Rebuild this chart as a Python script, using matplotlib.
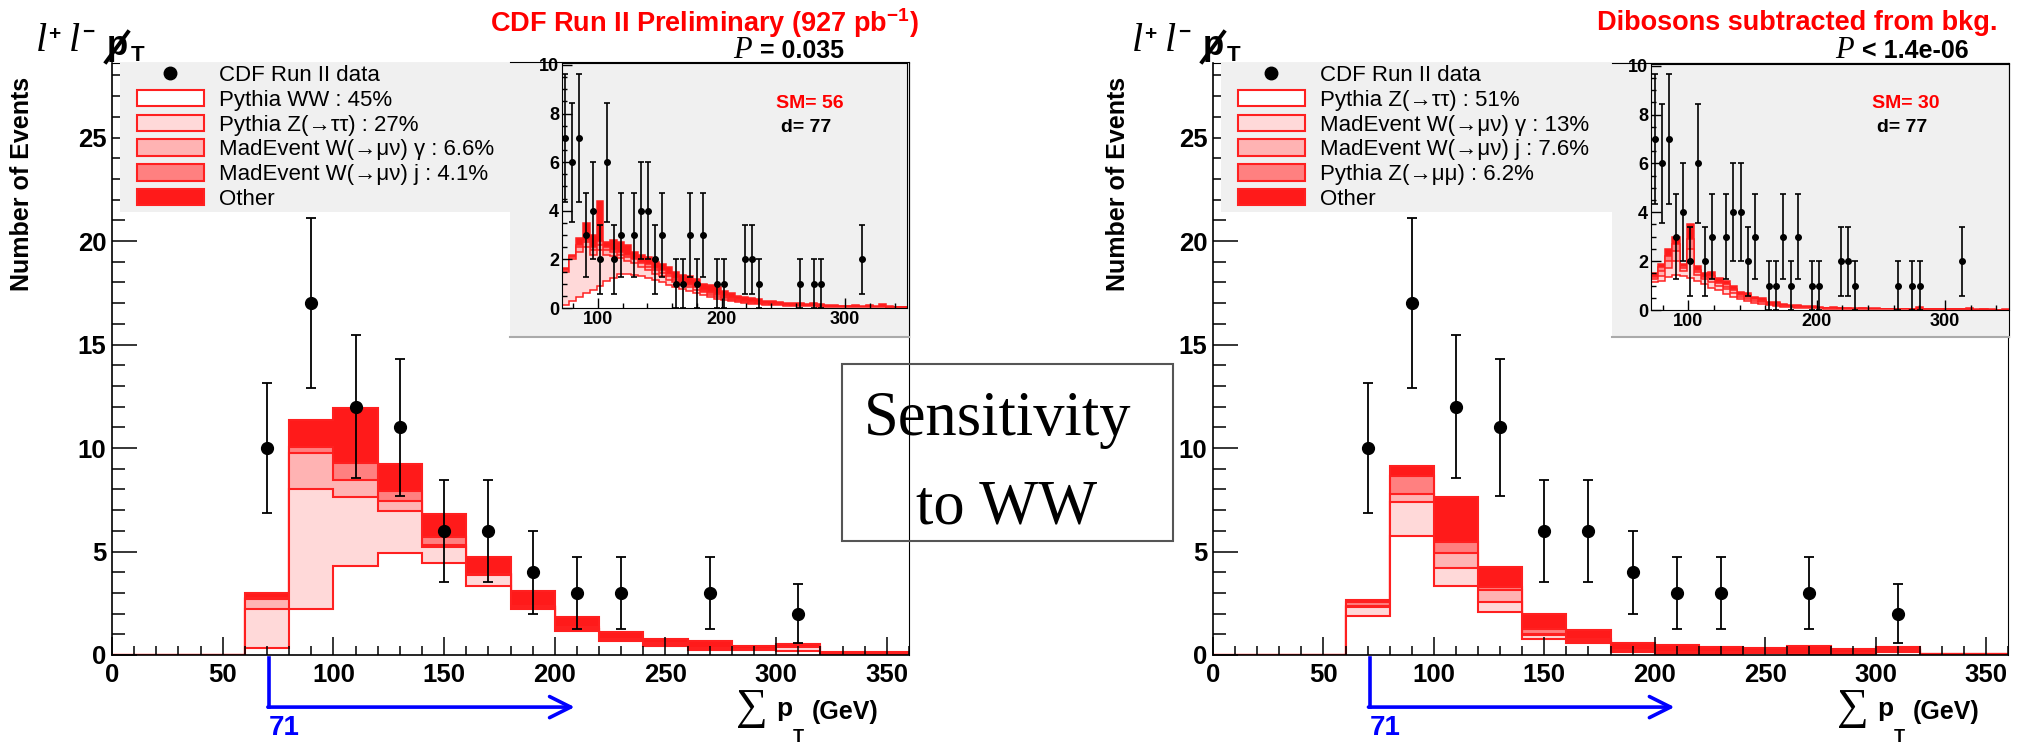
import numpy as np
import matplotlib
matplotlib.use("Agg")
import matplotlib.pyplot as plt
from matplotlib.patches import Patch, Rectangle
from matplotlib.lines import Line2D
from matplotlib.ticker import MultipleLocator

# ---- values ----
edges = np.arange(0, 361, 20)
data_counts = [0, 0, 0, 10, 17, 12, 11, 6, 6, 4, 3, 3, 0, 3, 0, 2, 0, 0]

# stack tops (cumulative, as drawn), bottom layer first
left_ww = [0, 0, 0, 0.34, 2.22, 4.28, 4.93, 4.44, 3.35, 2.22, 1.17, 0.69, 0.42, 0.26, 0.24, 0.17, 0.07, 0.05]
left_ztt = [0, 0, 0, 2.22, 8.02, 7.65, 6.97, 5.20, 3.85, 2.30, 1.25, 0.72, 0.50, 0.30, 0.26, 0.38, 0.09, 0.07]
left_wg = [0, 0, 0, 2.71, 9.74, 8.45, 7.42, 5.30, 3.90, 2.33, 1.28, 0.74, 0.55, 0.32, 0.27, 0.39, 0.10, 0.08]
left_wj = [0, 0, 0, 2.75, 10.03, 9.26, 7.94, 5.71, 3.93, 2.38, 1.33, 0.76, 0.58, 0.34, 0.28, 0.40, 0.11, 0.08]
left_other = [0, 0, 0, 3.00, 11.35, 11.92, 9.22, 6.81, 4.73, 3.10, 1.82, 1.12, 0.77, 0.69, 0.45, 0.53, 0.16, 0.13]

right_ztt = [0, 0, 0, 1.88, 5.75, 3.33, 2.08, 0.79, 0.57, 0.15, 0.07, 0.07, 0.12, 0.03, 0.06, 0.15, 0.02, 0.02]
right_wg = [0, 0, 0, 2.30, 7.41, 4.19, 2.56, 0.95, 0.65, 0.20, 0.09, 0.09, 0.14, 0.05, 0.08, 0.23, 0.03, 0.03]
right_wj = [0, 0, 0, 2.37, 7.80, 4.95, 3.13, 1.00, 0.70, 0.23, 0.11, 0.11, 0.16, 0.06, 0.09, 0.26, 0.04, 0.03]
right_zmm = [0, 0, 0, 2.56, 8.65, 5.46, 3.30, 1.27, 0.76, 0.26, 0.13, 0.13, 0.18, 0.07, 0.10, 0.28, 0.04, 0.03]
right_other = [0, 0, 0, 2.66, 9.13, 7.65, 4.24, 1.97, 1.21, 0.57, 0.47, 0.41, 0.34, 0.43, 0.28, 0.39, 0.05, 0.05]

# insets: 50 bins from the 71 GeV cut to 350 GeV
inset_edges = np.linspace(71, 350, 51)
inset_counts = [7, 6, 7, 3, 4, 2, 6, 2, 3, 0, 3, 4, 4, 2, 3, 0, 1, 1, 3, 1,
                3, 0, 1, 1, 0, 0, 2, 2, 1, 0, 0, 0, 0, 0, 1, 0, 1, 1, 0, 0,
                0, 0, 0, 2, 0, 0, 0, 0, 0, 0]

li_ww = [0.14, 0.27, 0.44, 0.6, 0.75, 0.92, 1.1, 1.23, 1.4, 1.4, 1.35, 1.3, 1.23, 1.16, 1.05, 0.96, 0.86, 0.78, 0.7, 0.62,
         0.54, 0.46, 0.38, 0.34, 0.29, 0.25, 0.21, 0.18, 0.16, 0.14, 0.12, 0.11, 0.1, 0.09, 0.08, 0.07, 0.07, 0.06, 0.05, 0.05,
         0.04, 0.04, 0.04, 0.03, 0.03, 0.03, 0.03, 0.02, 0.02, 0.02]
li_ztt = [1.5, 2.0, 2.3, 2.5, 2.2, 2.4, 2.2, 2.15, 2.05, 1.95, 1.85, 1.7, 1.55, 1.4, 1.3, 1.15, 1.05, 0.95, 0.85, 0.75,
          0.65, 0.55, 0.45, 0.4, 0.33, 0.28, 0.24, 0.2, 0.18, 0.16, 0.14, 0.12, 0.11, 0.1, 0.09, 0.08, 0.08, 0.07, 0.06, 0.06,
          0.05, 0.05, 0.05, 0.04, 0.05, 0.04, 0.04, 0.03, 0.03, 0.03]
li_wg = [1.55, 2.1, 2.5, 2.7, 2.4, 2.6, 2.4, 2.3, 2.2, 2.1, 2.0, 1.85, 1.7, 1.55, 1.45, 1.3, 1.15, 1.05, 0.95, 0.85,
         0.72, 0.62, 0.52, 0.45, 0.38, 0.32, 0.28, 0.24, 0.21, 0.19, 0.17, 0.15, 0.13, 0.12, 0.11, 0.1, 0.1, 0.09, 0.08, 0.07,
         0.06, 0.06, 0.06, 0.05, 0.06, 0.05, 0.05, 0.04, 0.04, 0.03]
li_wj = [1.6, 2.15, 2.6, 2.8, 2.5, 2.75, 2.5, 2.4, 2.3, 2.2, 2.05, 1.9, 1.8, 1.65, 1.55, 1.4, 1.25, 1.12, 1.0, 0.9,
         0.76, 0.66, 0.56, 0.48, 0.41, 0.35, 0.3, 0.26, 0.23, 0.2, 0.18, 0.16, 0.14, 0.13, 0.12, 0.11, 0.11, 0.1, 0.08, 0.08,
         0.07, 0.07, 0.07, 0.06, 0.07, 0.05, 0.06, 0.05, 0.04, 0.04]
li_other = [1.65, 2.2, 2.9, 3.5, 3.0, 4.4, 2.7, 2.8, 2.7, 2.6, 2.3, 2.2, 2.1, 1.9, 1.8, 1.7, 1.5, 1.35, 1.3, 1.2,
            1.0, 0.95, 0.85, 0.7, 0.6, 0.5, 0.45, 0.4, 0.35, 0.3, 0.28, 0.25, 0.22, 0.2, 0.2, 0.18, 0.22, 0.15, 0.12, 0.12,
            0.1, 0.1, 0.12, 0.1, 0.12, 0.08, 0.15, 0.08, 0.06, 0.05]

ri_ztt = [1.15, 1.2, 1.35, 1.45, 1.4, 1.3, 1.2, 1.05, 0.9, 0.8, 0.65, 0.55, 0.45, 0.38, 0.3, 0.25, 0.2, 0.17, 0.14, 0.12,
          0.1, 0.09, 0.08, 0.07, 0.06, 0.06, 0.05, 0.05, 0.04, 0.04, 0.04, 0.03, 0.03, 0.03, 0.03, 0.03, 0.02, 0.03, 0.02, 0.02,
          0.02, 0.02, 0.02, 0.02, 0.02, 0.01, 0.01, 0.01, 0.01, 0.01]
ri_wg = [1.25, 1.4, 1.7, 2.0, 1.6, 2.0, 1.45, 1.25, 1.15, 1.0, 0.85, 0.7, 0.55, 0.47, 0.38, 0.32, 0.25, 0.22, 0.18, 0.15,
         0.13, 0.11, 0.1, 0.09, 0.07, 0.07, 0.06, 0.06, 0.05, 0.05, 0.05, 0.04, 0.04, 0.04, 0.04, 0.04, 0.03, 0.04, 0.03, 0.03,
         0.03, 0.03, 0.03, 0.03, 0.03, 0.02, 0.02, 0.02, 0.01, 0.02]
ri_wj = [1.35, 1.6, 2.0, 2.4, 1.7, 2.5, 1.55, 1.35, 1.3, 1.1, 0.95, 0.8, 0.62, 0.55, 0.44, 0.38, 0.28, 0.26, 0.2, 0.17,
         0.15, 0.12, 0.11, 0.1, 0.08, 0.08, 0.07, 0.06, 0.05, 0.06, 0.05, 0.05, 0.04, 0.04, 0.04, 0.04, 0.03, 0.05, 0.03, 0.03,
         0.03, 0.03, 0.03, 0.03, 0.04, 0.02, 0.02, 0.02, 0.01, 0.02]
ri_zmm = [1.4, 1.75, 2.2, 2.7, 1.8, 2.9, 1.65, 1.4, 1.4, 1.15, 1.05, 0.85, 0.65, 0.6, 0.47, 0.41, 0.3, 0.29, 0.22, 0.18,
          0.16, 0.13, 0.12, 0.1, 0.09, 0.09, 0.08, 0.07, 0.06, 0.07, 0.06, 0.05, 0.05, 0.04, 0.04, 0.05, 0.04, 0.06, 0.04, 0.03,
          0.04, 0.03, 0.04, 0.03, 0.05, 0.02, 0.03, 0.02, 0.02, 0.02]
ri_other = [1.5, 1.9, 2.5, 3.0, 1.9, 3.5, 1.8, 1.5, 1.55, 1.3, 1.2, 1.0, 0.75, 0.7, 0.55, 0.48, 0.34, 0.34, 0.25, 0.2,
            0.2, 0.15, 0.15, 0.12, 0.1, 0.12, 0.1, 0.08, 0.07, 0.1, 0.08, 0.07, 0.06, 0.05, 0.05, 0.06, 0.05, 0.12, 0.05, 0.04,
            0.05, 0.04, 0.06, 0.04, 0.1, 0.03, 0.04, 0.03, 0.02, 0.03]

left_labels = ["CDF Run II data", "Pythia WW : 45%", "Pythia Z(\u2192\u03c4\u03c4) : 27%",
               "MadEvent W(\u2192\u03bc\u03bd) \u03b3 : 6.6%", "MadEvent W(\u2192\u03bc\u03bd) j : 4.1%", "Other"]
right_labels = ["CDF Run II data", "Pythia Z(\u2192\u03c4\u03c4) : 51%", "MadEvent W(\u2192\u03bc\u03bd) \u03b3 : 13%",
                "MadEvent W(\u2192\u03bc\u03bd) j : 7.6%", "Pythia Z(\u2192\u03bc\u03bc) : 6.2%", "Other"]

CUT = 71
ARROW_END = 209

W, H = 2020, 744
FILLS = ["white", "#ffd9d9", "#ffb3b3", "#ff8080", "#ff1a1a"]
EDGE = "#ff2020"
GRAY = "#f0f0f0"
SANS = ["Liberation Sans", "DejaVu Sans"]
SERIF = ["Liberation Serif", "DejaVu Serif"]

plt.rcParams["font.family"] = SANS
plt.rcParams["font.weight"] = "bold"
plt.rcParams["mathtext.fontset"] = "custom"
plt.rcParams["mathtext.rm"] = "Liberation Sans:bold"
plt.rcParams["mathtext.bf"] = "Liberation Sans:bold"


def fig_axes(fig, x0, y0, x1, y1):
    return fig.add_axes([x0 / W, 1 - y1 / H, (x1 - x0) / W, (y1 - y0) / H])


def ftext(fig, x, y, s, **kw):
    return fig.text(x / W, 1 - y / H, s, **kw)


def draw_stack(ax, bin_edges, tops, lw):
    # draw cumulative tops from the outside in, like THStack
    for top, color in reversed(list(zip(tops, FILLS))):
        ax.stairs(top, bin_edges, baseline=0, fill=True, facecolor=color,
                  edgecolor=EDGE, linewidth=lw)


def draw_data(ax, bin_edges, counts, ms, cap, lw):
    centers = 0.5 * (bin_edges[:-1] + bin_edges[1:])
    counts = np.asarray(counts, dtype=float)
    keep = counts > 0
    ax.errorbar(centers[keep], counts[keep], yerr=np.sqrt(counts[keep]), fmt="o",
                color="black", ms=ms, capsize=cap, elinewidth=lw, capthick=lw, zorder=6)


def draw_panel(fig, dx, main_box, pad_box, inset_box, inset_top, tops, inset_tops,
               labels, title, title_x, p_val, p_x, sm_text, sm_x, d_x):
    ax = fig_axes(fig, *main_box)
    draw_stack(ax, edges, tops, 1.5)
    draw_data(ax, edges, data_counts, 8.5, 3.3, 1.3)
    ax.set_xlim(0, 360)
    ax.set_ylim(0, 28.6)
    ax.xaxis.set_major_locator(MultipleLocator(50))
    ax.xaxis.set_minor_locator(MultipleLocator(10))
    ax.yaxis.set_major_locator(MultipleLocator(5))
    ax.yaxis.set_minor_locator(MultipleLocator(1))
    ax.tick_params(which="both", direction="in", top=False, right=False, width=1.1)
    ax.tick_params(axis="x", which="major", length=13, labelsize=18.5, pad=6)
    ax.tick_params(axis="x", which="minor", length=6.5)
    ax.tick_params(axis="y", which="major", length=18, labelsize=18.5, pad=4)
    ax.tick_params(axis="y", which="minor", length=9.4)
    for side in ["left", "bottom"]:
        ax.spines[side].set_linewidth(1.2)

    # legend with its grey box
    x0 = main_box[0]
    ax.add_patch(Rectangle(((x0 + 8) / W, 1 - 212 / H), (pad_box[0] - x0 - 8) / W, 149 / H,
                           transform=fig.transFigure, facecolor=GRAY, edgecolor="none",
                           zorder=3, clip_on=False))
    handles = [Line2D([], [], marker="o", color="black", ls="none", ms=9)]
    handles += [Patch(facecolor=c, edgecolor=EDGE, linewidth=1.5) for c in FILLS]
    ax.legend(handles, labels, loc="upper left",
              bbox_to_anchor=((x0 + 25) / W, 1 - 65 / H), bbox_transform=fig.transFigure,
              frameon=False, borderpad=0, borderaxespad=0, numpoints=1,
              handlelength=3.0, handleheight=0.75, handletextpad=0.68, labelspacing=0.17,
              prop={"family": SANS, "size": 16, "weight": "normal"}).set_zorder(5)

    # cut arrow
    trans = ax.get_xaxis_transform()
    ax.plot([CUT, CUT], [-0.005, -0.088], color="blue", lw=2.6, transform=trans, clip_on=False)
    ax.annotate("", xy=(ARROW_END, -0.088), xytext=(CUT - 0.6, -0.088), xycoords=trans,
                textcoords=trans, annotation_clip=False,
                arrowprops=dict(arrowstyle="->", color="blue", lw=2.6, mutation_scale=38,
                                shrinkA=0, shrinkB=0))
    ax.text(CUT, -0.124, str(CUT), transform=trans, color="blue", fontsize=20,
            ha="left", va="center")

    # inset
    pad = fig_axes(fig, *pad_box)
    pad.set_facecolor(GRAY)
    pad.set_xticks([])
    pad.set_yticks([])
    pad.spines["left"].set_visible(False)
    pad.spines["bottom"].set_color("#aaaaaa")
    pad.spines["bottom"].set_linewidth(1.5)

    ins = fig_axes(fig, *inset_box)
    ins.set_facecolor("none")
    draw_stack(ins, inset_edges, inset_tops, 1.1)
    draw_data(ins, inset_edges, inset_counts, 4, 2, 1.2)
    ins.set_xlim(71, 350)
    ins.set_ylim(0, inset_top)
    ins.xaxis.set_major_locator(MultipleLocator(100))
    ins.xaxis.set_minor_locator(MultipleLocator(20))
    ins.yaxis.set_major_locator(MultipleLocator(2))
    ins.yaxis.set_minor_locator(MultipleLocator(0.5))
    ins.tick_params(which="both", direction="in", top=False, right=False, width=1.0)
    ins.tick_params(which="major", length=7, labelsize=13, pad=2)
    ins.tick_params(which="minor", length=3.6)
    ftext(fig, sm_x, 103, sm_text, fontsize=14, color="red", ha="center", va="center")
    ftext(fig, d_x, 127, "d= 77", fontsize=14, color="black", ha="center", va="center")

    # header texts: l+ l- and slashed p_T
    ftext(fig, 36 + dx, 51, "l", family=SERIF, style="italic", weight="normal", fontsize=29)
    ftext(fig, 48 + dx, 40, "+", fontsize=15)
    ftext(fig, 69 + dx, 51, "l", family=SERIF, style="italic", weight="normal", fontsize=29)
    ftext(fig, 82 + dx, 38, "\u2212", fontsize=15)
    ftext(fig, 107 + dx, 55, "p", fontsize=25)
    fig.add_artist(Line2D([(106 + dx) / W, (128 + dx) / W], [1 - 62 / H, 1 - 32 / H],
                          color="black", lw=2.8, transform=fig.transFigure))
    ftext(fig, 131 + dx, 61, "T", fontsize=16)
    ftext(fig, 22 + dx, 77, "Number of Events", rotation=90, ha="center", va="top", fontsize=18)
    ftext(fig, title_x, 23, title, color="red", ha="center", va="center", fontsize=19.5)
    ftext(fig, p_x, 51, "P", family=SERIF, style="italic", weight="normal", fontsize=22,
          va="center")
    ftext(fig, p_x + 27, 51, p_val, fontsize=18, va="center")

    # x title
    xd = main_box[0] - 112
    ftext(fig, 736 + xd, 708, "\u2211", family=SERIF, weight="normal", fontsize=32, va="center")
    ftext(fig, 776 + xd, 716, "p", fontsize=19)
    ftext(fig, 793 + xd, 742, "T", fontsize=13)
    ftext(fig, 812 + xd, 719, "(GeV)", fontsize=18)
    return ax


def main():
    fig = plt.figure(figsize=(W / 100, H / 100), dpi=100)
    fig.patch.set_facecolor("white")

    draw_panel(fig, 0, (112, 63, 909, 655), (510, 62, 909, 337), (562, 63, 907, 308), 10.08,
               [left_ww, left_ztt, left_wg, left_wj, left_other],
               [li_ww, li_ztt, li_wg, li_wj, li_other],
               left_labels, "CDF Run II Preliminary (927 pb$^{-1}$)", 704,
               "= 0.035", 733, "SM= 56", 810, 806)
    draw_panel(fig, 1096, (1213, 63, 2008, 655), (1612, 63, 2009, 337), (1651, 64, 2009, 310), 10.07,
               [right_ztt, right_wg, right_wj, right_zmm, right_other],
               [ri_ztt, ri_wg, ri_wj, ri_zmm, ri_other],
               right_labels, "Dibosons subtracted from bkg.", 1797,
               "< 1.4e-06", 1835, "SM= 30", 1906, 1902)

    # "Sensitivity to WW" box
    fig.add_artist(Rectangle((842 / W, 1 - 541 / H), 331 / W, 177 / H, transform=fig.transFigure,
                             fill=False, edgecolor="#555555", linewidth=1.5))
    ftext(fig, 998, 435, "Sensitivity", family=SERIF, weight="normal", fontsize=45,
          ha="center", va="baseline")
    ftext(fig, 1007, 523, "to WW", family=SERIF, weight="normal", fontsize=45,
          ha="center", va="baseline")

    fig.savefig("out.png", dpi=100, facecolor="white")


if __name__ == "__main__":
    main()
